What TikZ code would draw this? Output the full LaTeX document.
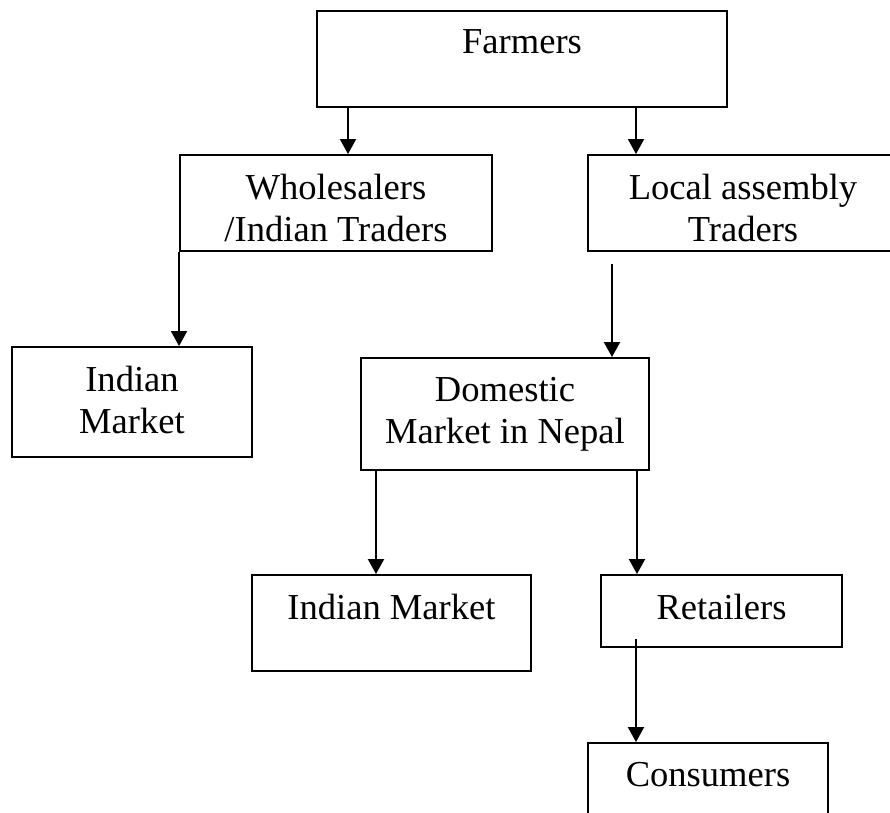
\documentclass[tikz,border=0pt]{standalone}
\usepackage{fontspec}
\setmainfont{Liberation Serif}
\usetikzlibrary{arrows.meta, positioning, calc}

\begin{document}
\begin{tikzpicture}[
        box/.style={draw, line width=1.1pt, inner sep=0pt},
        txt/.style={inner sep=0pt, align=center, font=\fontsize{20.8}{24}\selectfont},
        conn/.style={-{Triangle[length=0.3cm, width=0.32cm]}, line width=1.1pt}
      ]
        \clip (0,0) rectangle (17.8,-16.24);
        % boxes
        \node[box, minimum width=8.2cm,  minimum height=1.92cm] (farm)  at (10.44,-1.18)  {};
        \node[box, minimum width=6.24cm, minimum height=1.92cm] (whole) at (6.72,-4.06)   {};
        \node[box, minimum width=6.2cm,  minimum height=1.92cm] (local) at (14.86,-4.06)  {};
        \node[box, minimum width=4.8cm,  minimum height=2.2cm]  (indA)  at (2.64,-8.04)   {};
        \node[box, minimum width=5.76cm, minimum height=2.24cm] (dom)   at (10.10,-8.28)  {};
        \node[box, minimum width=5.58cm, minimum height=1.92cm] (indB)  at (7.83,-12.46)  {};
        \node[box, minimum width=4.82cm, minimum height=1.44cm] (ret)   at (14.43,-12.22) {};
        \node[box, minimum width=4.8cm,  minimum height=1.94cm] (cons)  at (14.16,-15.83) {};
        % texts
        \node[txt, below=0.39cm of farm.north]  (farmtxt)  {Farmers};
        \node[txt, below=0.39cm of whole.north] (wholetxt) {Wholesalers\\/Indian Traders};
        \node[txt, below=0.39cm of local.north] (localtxt) {Local assembly\\Traders};
        \node[txt, below=0.39cm of indA.north]  (indAtxt)  {Indian\\Market};
        \node[txt, below=0.39cm of dom.north]   (domtxt)   {Domestic\\Market in Nepal};
        \node[txt, below=0.39cm of indB.north]  (indBtxt)  {Indian Market};
        \node[txt, below=0.39cm of ret.north]   (rettxt)   {Retailers};
        \node[txt, below=0.39cm of cons.north]  (constxt)  {Consumers};
        % arrows
        \draw[conn] ([xshift=-3.48cm]farm.south) -- ([xshift=-3.48cm]farm.south |- whole.north);
        \draw[conn] ([xshift=2.28cm]farm.south) -- ([xshift=2.28cm]farm.south |- local.north);
        \draw[conn] (whole.south west) -- (whole.south west |- indA.north);
        \draw[conn] ([shift={(-2.62cm,-0.24cm)}]local.south) -- ([xshift=-2.62cm]local.south |- dom.north);
        \draw[conn] ([xshift=-2.58cm]dom.south) -- ([xshift=-2.58cm]dom.south |- indB.north);
        \draw[conn] ([xshift=2.64cm]dom.south) -- ([xshift=2.64cm]dom.south |- ret.north);
        \draw[conn] ([shift={(-1.71cm,0.18cm)}]ret.south) -- ([xshift=-1.71cm]ret.south |- cons.north);
      \end{tikzpicture}
\end{document}
